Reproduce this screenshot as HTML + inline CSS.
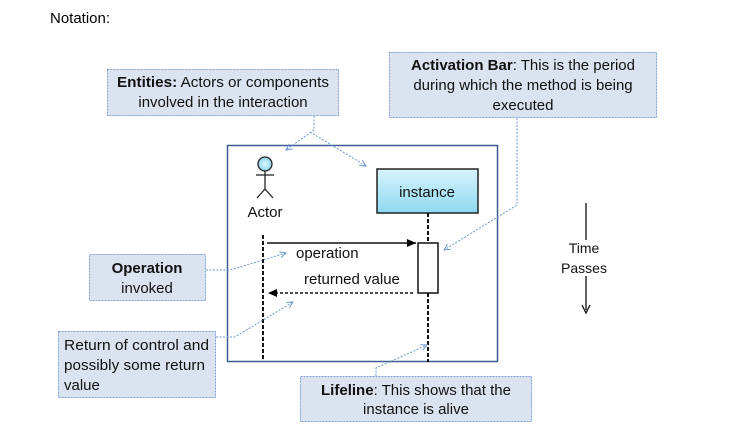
<!DOCTYPE html>
<html><head><meta charset="utf-8"><style>
body{margin:0;background:#fff}
svg{display:block;font-family:"Liberation Sans",Carlito,sans-serif}
</style></head><body>
<svg width="752" height="447" viewBox="0 0 752 447" xmlns="http://www.w3.org/2000/svg">
<defs>
<linearGradient id="g" x1="0" y1="0" x2="0" y2="1"><stop offset="0" stop-color="#d8f4fc"/><stop offset="1" stop-color="#8ed9f2"/></linearGradient>
<radialGradient id="h"><stop offset="0" stop-color="#e0f7fd"/><stop offset="1" stop-color="#8ad6ef"/></radialGradient>
<marker id="ba" markerWidth="8" markerHeight="8" refX="7" refY="4" orient="auto" markerUnits="userSpaceOnUse"><path d="M1,1 L7,4 L1,7" fill="none" stroke="#6f95cf" stroke-width="1"/></marker>
<marker id="k" markerWidth="10" markerHeight="10" refX="9" refY="5" orient="auto" markerUnits="userSpaceOnUse"><path d="M0,1 L9,5 L0,9z" fill="#000"/></marker>
</defs>
<text x="50" y="23" font-size="15" fill="#000">Notation:</text>
<g fill="#dbe3f0" stroke="#7f9fd0" stroke-width="1" stroke-dasharray="2,1">
<rect x="107.5" y="69.5" width="231" height="46"/>
<rect x="389.5" y="52.5" width="267" height="65"/>
<rect x="89.5" y="254.5" width="116" height="46"/>
<rect x="58.5" y="331.5" width="157" height="66"/>
<rect x="300.5" y="376.5" width="231" height="45"/>
</g>
<g font-size="15" fill="#111" text-anchor="middle">
<text x="223" y="87" textLength="212" lengthAdjust="spacingAndGlyphs"><tspan font-weight="bold">Entities:</tspan>  Actors or components</text>
<text x="223" y="107">involved in the interaction</text>
<text x="523" y="70" textLength="224" lengthAdjust="spacingAndGlyphs"><tspan font-weight="bold">Activation Bar</tspan>: This is the period</text>
<text x="523" y="90">during which the method is being</text>
<text x="523" y="110">executed</text>
<text x="147" y="273" font-weight="bold">Operation</text>
<text x="147" y="293">invoked</text>
<text x="416" y="395" textLength="190" lengthAdjust="spacingAndGlyphs"><tspan font-weight="bold">Lifeline</tspan>: This shows that the</text>
<text x="416" y="414">instance is alive</text>
</g>
<g font-size="15" fill="#111">
<text x="64" y="350" textLength="145" lengthAdjust="spacingAndGlyphs">Return of control and</text>
<text x="64" y="370" textLength="141" lengthAdjust="spacingAndGlyphs">possibly some return</text>
<text x="64" y="390">value</text>
</g>
<rect x="227.5" y="145.5" width="270" height="216" fill="none" stroke="#3f5b93" stroke-width="1.5"/>
<rect x="377" y="169" width="101" height="44" fill="url(#g)" stroke="#222" stroke-width="1.5"/>
<text x="427" y="197" font-size="15" text-anchor="middle" fill="#111">instance</text>
<circle cx="265" cy="164" r="7" fill="url(#h)" stroke="#222" stroke-width="1.3"/>
<g stroke="#222" stroke-width="1.3" fill="none">
<path d="M265,171 V189 M256,175 H274 M265,189 L257,198 M265,189 L273,198"/>
</g>
<text x="265" y="217" font-size="15" text-anchor="middle" fill="#111">Actor</text>
<g stroke="#111" stroke-width="2" stroke-dasharray="4,2">
<path d="M263,235 V360"/>
<path d="M428,213 V243 M428,293 V362"/>
</g>
<path d="M267,243 H416" stroke="#111" stroke-width="1.5" marker-end="url(#k)"/>
<rect x="418" y="243" width="20" height="50" fill="#fff" stroke="#111" stroke-width="1.5"/>
<path d="M413,293 H268" stroke="#111" stroke-width="1.5" stroke-dasharray="3,2" marker-end="url(#k)"/>
<text x="296" y="258" font-size="15" fill="#111">operation</text>
<text x="304" y="284" font-size="15" fill="#111">returned value</text>
<g stroke="#6f95cf" stroke-width="1" stroke-dasharray="2,1.5" fill="none" marker-end="url(#ba)">
<path d="M314,116 V130 L286,150"/>
<path d="M310,132 L366,166"/>
<path d="M517,118 V205 L444,250"/>
<path d="M206,270 H230 L286,253"/>
<path d="M216,337 H235 L293,302"/>
<path d="M376,376 V368 L427,345"/>
</g>
<path d="M586,203 V310" stroke="#111" stroke-width="1.3"/>
<path d="M582,305 L586,313 L590,305" fill="none" stroke="#111" stroke-width="1.3"/>
<rect x="564" y="240" width="46" height="36" fill="#fff"/>
<text x="584" y="253" font-size="14" text-anchor="middle" fill="#111">Time</text>
<text x="584" y="273" font-size="14" text-anchor="middle" fill="#111">Passes</text>
</svg>
</body></html>
